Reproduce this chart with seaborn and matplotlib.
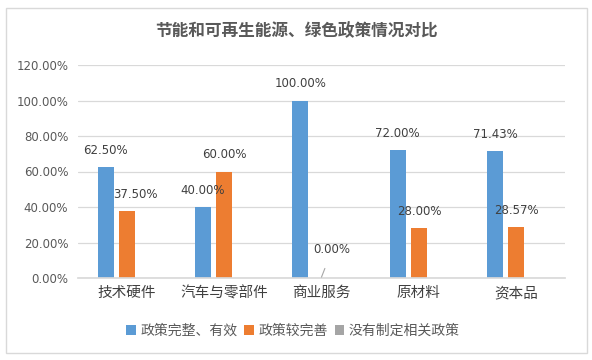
import pandas as pd
import matplotlib
matplotlib.use("Agg")
import matplotlib.pyplot as plt
import seaborn as sns
from matplotlib.patches import Rectangle

# Data
categories = ["技术硬件", "汽车与零部件", "商业服务", "原材料", "资本品"]
series_names = ["政策完整、有效", "政策较完善", "没有制定相关政策"]
complete = [62.50, 40.00, 100.00, 72.00, 71.43]
fairly = [37.50, 60.00, 0.00, 28.00, 28.57]
none_ = [0.00, 0.00, 0.00, 0.00, 0.00]
yticks = [0, 20, 40, 60, 80, 100, 120]

colors = ["#5B9BD5", "#ED7D31", "#A5A5A5"]

df = pd.DataFrame({
    "category": categories * 3,
    "series": [series_names[0]] * 5 + [series_names[1]] * 5 + [series_names[2]] * 5,
    "value": complete + fairly + none_,
})

sns.set_theme(style="white")
plt.rcParams["font.family"] = ["Noto Sans CJK SC", "DejaVu Sans"]

fig = plt.figure(figsize=(5.92, 3.6), dpi=100)
ax = fig.add_axes([78 / 592, 1 - 278 / 360, (565 - 78) / 592, (278 - 65) / 360])

sns.barplot(data=df, x="category", y="value", hue="series", palette=colors,
            saturation=1, width=0.65, gap=0.24, ax=ax, order=categories,
            hue_order=series_names, edgecolor="none")

ax.set_ylim(0, 120)
ax.set_yticks(yticks)
ax.set_yticklabels([f"{v:.2f}%" for v in yticks], fontsize=8.5, color="#595959",
                   family="DejaVu Sans")
ax.tick_params(axis="x", labelsize=10.5, colors="#404040", length=0, pad=6)
ax.tick_params(axis="y", length=0, pad=7)
ax.set_xlabel("")
ax.set_ylabel("")
ax.grid(axis="y", color="#D9D9D9", linewidth=0.9)
ax.set_axisbelow(True)
for s in ["top", "right", "left"]:
    ax.spines[s].set_visible(False)
ax.spines["bottom"].set_color("#D9D9D9")

# Data labels (first two series)
for ci, cont in enumerate(ax.containers[:2]):
    for i, bar in enumerate(cont):
        v = bar.get_height()
        x = bar.get_x() + bar.get_width() / 2
        if v == 0:
            ax.annotate(f"{v:.2f}%", xy=(x, 0.5), xytext=(x + 0.11, 16), ha="center",
                        va="center", fontsize=8.5, color="#404040", family="DejaVu Sans",
                        arrowprops=dict(arrowstyle="-", color="#A6A6A6", lw=0.8,
                                        shrinkA=7, shrinkB=0))
            continue
        dx = 6 if (ci == 1 and i == 0) else 0
        ax.annotate(f"{v:.2f}%", xy=(x, v), xytext=(dx, 12), textcoords="offset points",
                    ha="center", va="center", fontsize=8.5, color="#404040",
                    family="DejaVu Sans")

# Legend
handles, labels = ax.get_legend_handles_labels()
ax.legend(handles, labels, loc="center", bbox_to_anchor=(293 / 592, 1 - 331 / 360),
          bbox_transform=fig.transFigure, ncol=3, frameon=False, fontsize=10,
          handlelength=0.7, handleheight=0.7, handletextpad=0.3, columnspacing=0.5,
          labelcolor="#595959")

fig.text(296 / 592, 1 - 31 / 360, "节能和可再生能源、绿色政策情况对比", ha="center", va="center",
         fontsize=12, color="#595959", fontweight="bold")

fig.patches.append(Rectangle((6 / 592, 1 - 353 / 360), 581 / 592, 345 / 360,
                             transform=fig.transFigure, fill=False,
                             edgecolor="#D9D9D9", linewidth=1))

fig.savefig("out.png", dpi=100)
